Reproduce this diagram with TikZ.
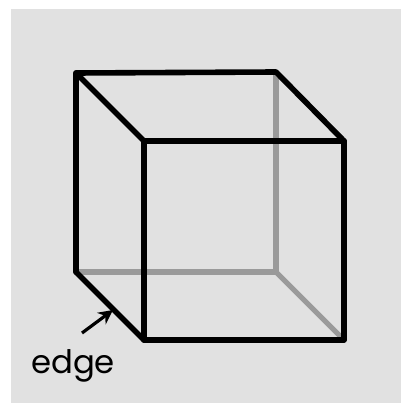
\documentclass[tikz,border=0pt]{standalone}
\usepackage{xcolor}
\usepackage{fontspec}
\setmainfont{Poppins}
\usetikzlibrary{arrows.meta}
\definecolor{pagebg}{HTML}{E1E1E1}
\definecolor{hiddenline}{HTML}{9A9A9A}
\tikzstyle{visible} = [line width=1.4mm, line join=round, line cap=round, color=black]
\tikzstyle{hidden} = [line width=1.3mm, line join=round, line cap=round, color=hiddenline]
\tikzstyle{arrow} = [line width=0.8mm, -{Stealth[length=3.6mm,width=3.6mm]}, color=black]
\tikzstyle{label} = [inner sep=0pt, text=black, font=\fontsize{23}{23}\selectfont]

\begin{document}
\begin{tikzpicture}[x=0.25mm, y=-0.25mm]
    % Page and grey panel
    \useasboundingbox (0,0) rectangle (401,403);
    \fill[white] (0,0) rectangle (401,403);
    \fill[pagebg] (11,9) rectangle (401,403);

    % Cube corners
    \coordinate (backtl) at (76,73);
    \coordinate (backtr) at (276,72);
    \coordinate (backbl) at (76,272);
    \coordinate (backbr) at (276,272);
    \coordinate (fronttl) at (144,141);
    \coordinate (fronttr) at (344,141);
    \coordinate (frontbl) at (144,340);
    \coordinate (frontbr) at (344,340);

    % Hidden edges go first
    \draw[hidden] (backbl) -- (backbr);
    \draw[hidden] (backtr) -- (backbr);
    \draw[hidden] (backbr) -- (frontbr);

    % Visible edges
    \draw[visible] (fronttl) -- (fronttr) -- (frontbr) -- (frontbl) -- cycle;
    \draw[visible] (backbl) -- (backtl) -- (backtr) -- (fronttr);
    \draw[visible] (backtl) -- (fronttl);
    \draw[visible] (backbl) -- (frontbl);

    % Label and pointer
    \node[label] (edgelabel) at (73,366) {edge};
    \coordinate (pointertail) at (82,333);
    \coordinate (pointerhead) at (113,310);
    \draw[arrow] (pointertail) -- (pointerhead);
\end{tikzpicture}
\end{document}
